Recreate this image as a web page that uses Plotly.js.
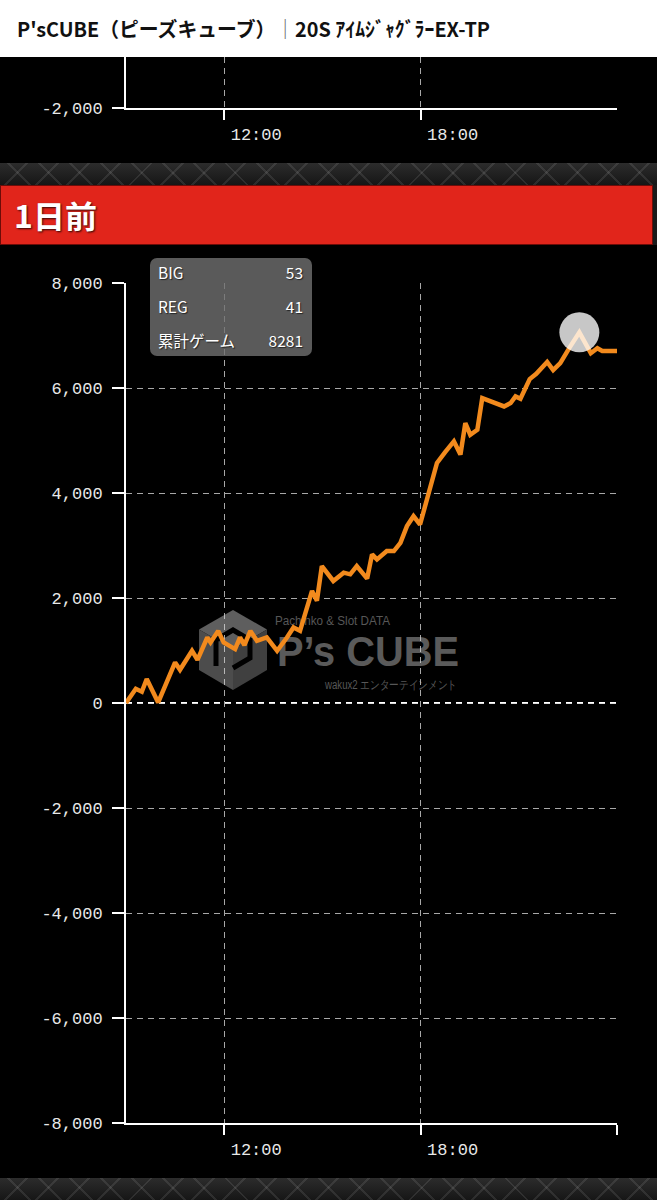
<!DOCTYPE html>
<html><head><meta charset="utf-8">
<script src="https://cdn.plot.ly/plotly-3.0.1.min.js"></script>
<style>
body{margin:0;width:657px;height:1200px;overflow:hidden;background:#1a1a1a;position:relative;font-family:"Noto Sans CJK JP","Noto Sans",sans-serif;}
.abs{position:absolute;}
.tex{position:absolute;left:0;width:657px;
 background:
 repeating-linear-gradient(45deg, rgba(255,255,255,0) 0 20px, rgba(255,255,255,0.09) 20px 22px),
 repeating-linear-gradient(-45deg, rgba(255,255,255,0) 0 20px, rgba(255,255,255,0.09) 20px 22px),
 linear-gradient(180deg,#2c2c2c,#161616);}
#header{left:0;top:0;width:657px;height:57px;background:#fff;}
#htext{position:absolute;left:17px;top:14px;font-size:20px;font-weight:bold;color:#111;white-space:nowrap;transform-origin:left center;line-height:30px;}
#htext .bar{color:#666;font-weight:normal;}
#topPanel{left:0;top:57px;width:657px;height:106px;background:#000;}
#banner{left:0;top:185px;width:651px;height:58px;background:#e1251b;border:1px solid #6d0c08;}
#btext{position:absolute;left:13px;top:0;line-height:58px;font-size:31px;font-weight:bold;color:#fff;text-shadow:1px 1px 2px rgba(0,0,0,0.8);white-space:nowrap;transform-origin:left center;}
#mainPanel{left:0;top:245px;width:657px;height:933px;background:#000;}
.wm{position:absolute;color:#575757;white-space:nowrap;transform-origin:left top;font-family:"Liberation Sans",sans-serif;line-height:normal;}
#tip{left:150px;top:258px;width:162px;height:98px;background:rgba(112,112,112,0.8);border-radius:7px;z-index:5;}
.trow{position:absolute;left:8px;right:9px;height:22px;line-height:22px;font-size:15.5px;color:#fff;text-shadow:1px 1px 1px rgba(0,0,0,0.6);}
.trow .l{position:absolute;left:0;}
.trow .v{position:absolute;right:0;}
</style></head>
<body>
<div id="header" class="abs"><div id="htext">P'sCUBE（ピーズキューブ）<span class="bar">｜</span>20S ｱｲﾑｼﾞｬｸﾞﾗｰEX-TP</div></div>
<div id="topPanel" class="abs"><div id="topChart"></div></div>
<div class="tex" style="top:163px;height:22px;"></div>
<div id="banner" class="abs"><div id="btext">1日前</div></div>
<div id="mainPanel" class="abs"></div>
<div class="tex" style="top:1178px;height:22px;"></div>

<!-- watermark (behind chart) -->
<svg class="abs" style="left:195px;top:608px;z-index:1" width="76" height="84" viewBox="0 0 74 84">
  <polygon points="37,2 71,21.5 37,41 3,21.5" fill="#5e5e5e"/>
  <polygon points="3,21.5 37,41 37,82 3,62" fill="#4c4c4c"/>
  <polygon points="71,21.5 37,41 37,82 71,62" fill="#404040"/>
  <polyline points="20,58 20,32 37,22 54,32 54,50 37,60" fill="none" stroke="#000" stroke-width="5"/>
</svg>
<div class="wm" id="wm1" style="left:275px;top:614px;font-size:12px;z-index:1">Pachinko &amp; Slot DATA</div>
<div class="wm" id="wm2" style="left:277px;top:628px;font-size:42px;font-weight:bold;z-index:1;color:#5a5a5a">P’s CUBE</div>
<div class="wm" id="wm3" style="left:325px;top:677px;font-size:12px;z-index:1">wakux2 エンターテインメント</div>

<div id="mainChart" class="abs" style="left:0;top:245px;z-index:2"></div>
<div id="tip" class="abs"></div>

<script>
// ---- data ----
var times = ['09:00','09:18','09:29','09:38','09:59','10:30','10:39','11:01','11:11','11:29','11:35','11:49','11:59','12:20','12:29','12:37','12:48','13:00','13:18','13:37','13:55','14:07','14:19','14:41','14:50','14:59','15:20','15:39','15:51','16:03','16:22','16:31','16:40','16:58','17:11','17:23','17:35','17:47','17:59','18:15','18:30','18:45','19:01','19:13','19:22','19:31','19:44','19:53','20:10','20:33','20:45','20:54','21:03','21:20','21:32','21:52','22:03','22:16','22:33','22:51','23:12','23:24','23:33','24:00'];
var diffCoins = [0,270,215,456,10,773,633,994,823,1248,1153,1374,1153,1026,1248,1102,1374,1184,1248,994,1248,1438,1374,2134,1950,2609,2324,2483,2451,2609,2370,2831,2736,2894,2894,3052,3369,3559,3400,3971,4573,4780,4984,4731,5332,5110,5205,5807,5740,5649,5713,5840,5795,6170,6270,6495,6340,6473,6770,7060,6663,6758,6705,6705];
var yTickVals = [-8000,-6000,-4000,-2000,0,2000,4000,6000,8000];
var yTickText = ['-8,000','-6,000','-4,000','-2,000','0','2,000','4,000','6,000','8,000'];
var xTickVals = [12,18,24];
var xTickText = ['12:00','18:00',''];
var topYTickVals = [-2000];
var topYTickText = ['-2,000'];
var tipLabels = ['BIG','REG','累計ゲーム'];
var tipValues = ['53','41','8281'];

function toHours(t){var p=t.split(':');return +p[0] + (+p[1])/60;}
var xs = times.map(toHours);
var peakIdx = diffCoins.indexOf(Math.max.apply(null, diffCoins));

// ---- header / text fitting ----
function fitW(id, w){var el=document.getElementById(id);var cw=el.getBoundingClientRect().width;el.style.transform='scaleX('+(w/cw)+')';}
fitW('htext',473);
fitW('btext',83);
fitW('wm1',115);
fitW('wm2',182);
fitW('wm3',132);

// ---- tooltip ----
var tip=document.getElementById('tip');
var rowTops=[3,37,71];
tipLabels.forEach(function(l,i){
  var r=document.createElement('div');r.className='trow';r.style.top=rowTops[i]+'px';
  var a=document.createElement('span');a.className='l';a.textContent=l;
  var b=document.createElement('span');b.className='v';b.textContent=tipValues[i];
  r.appendChild(a);r.appendChild(b);tip.appendChild(r);
});

var tickFont={family:'Liberation Mono, DejaVu Sans Mono, monospace',size:17,color:'#e8e8e8'};
var gridCol='rgba(210,210,210,0.8)';
var dashPat='6px,5px';

// ---- main chart ----
var traces=[
 {type:'scatter',mode:'lines',x:xs,y:diffCoins,line:{color:'#f28a1d',width:4.5,shape:'linear'},hoverinfo:'skip'},
 {type:'scatter',mode:'markers',x:[xs[peakIdx]],y:[diffCoins[peakIdx]],marker:{size:40,color:'rgba(255,255,255,0.78)',line:{width:0}},hoverinfo:'skip'}
];
var layout={
 width:657,height:933,
 margin:{l:126,r:40,t:38,b:55},
 paper_bgcolor:'rgba(0,0,0,0)',plot_bgcolor:'rgba(0,0,0,0)',
 showlegend:false,hovermode:false,
 xaxis:{range:[9,24],tickvals:xTickVals,ticktext:xTickText,showgrid:true,gridcolor:gridCol,griddash:dashPat,gridwidth:1,
   showline:true,linecolor:'#ffffff',linewidth:2,ticks:'outside',ticklen:10,tickwidth:2,tickcolor:'#ffffff',
   tickfont:tickFont,ticklabelshift:32,zeroline:false,fixedrange:true},
 yaxis:{range:[-8000,8000],tickvals:yTickVals,ticktext:yTickText,showgrid:true,gridcolor:gridCol,griddash:dashPat,gridwidth:1,
   showline:true,linecolor:'#ffffff',linewidth:2,ticks:'outside',ticklen:12,tickwidth:2,tickcolor:'#ffffff',
   tickfont:tickFont,ticklabelstandoff:6,zeroline:false,fixedrange:true},
 shapes:[{type:'line',xref:'paper',x0:0,x1:1,yref:'y',y0:0,y1:0,layer:'below',line:{color:'#ffffff',width:2,dash:dashPat}}]
};
Plotly.newPlot('mainChart',traces,layout,{displayModeBar:false,staticPlot:true});

// ---- top (previous day) chart, bottom part only ----
var layoutTop={
 width:657,height:106,
 margin:{l:126,r:40,t:0,b:55},
 paper_bgcolor:'rgba(0,0,0,0)',plot_bgcolor:'rgba(0,0,0,0)',
 showlegend:false,hovermode:false,
 xaxis:{range:[9,24],tickvals:[12,18],ticktext:['12:00','18:00'],showgrid:true,gridcolor:gridCol,griddash:dashPat,gridwidth:1,
   showline:true,linecolor:'#ffffff',linewidth:2,ticks:'outside',ticklen:10,tickwidth:2,tickcolor:'#ffffff',
   tickfont:tickFont,ticklabelshift:32,zeroline:false,fixedrange:true},
 yaxis:{range:[-2000,-1030],tickvals:topYTickVals,ticktext:topYTickText,showgrid:false,
   showline:true,linecolor:'#ffffff',linewidth:2,ticks:'outside',ticklen:12,tickwidth:2,tickcolor:'#ffffff',
   tickfont:tickFont,ticklabelstandoff:6,zeroline:false,fixedrange:true}
};
Plotly.newPlot('topChart',[{type:'scatter',mode:'lines',x:[],y:[]}],layoutTop,{displayModeBar:false,staticPlot:true});
</script>
</body></html>
